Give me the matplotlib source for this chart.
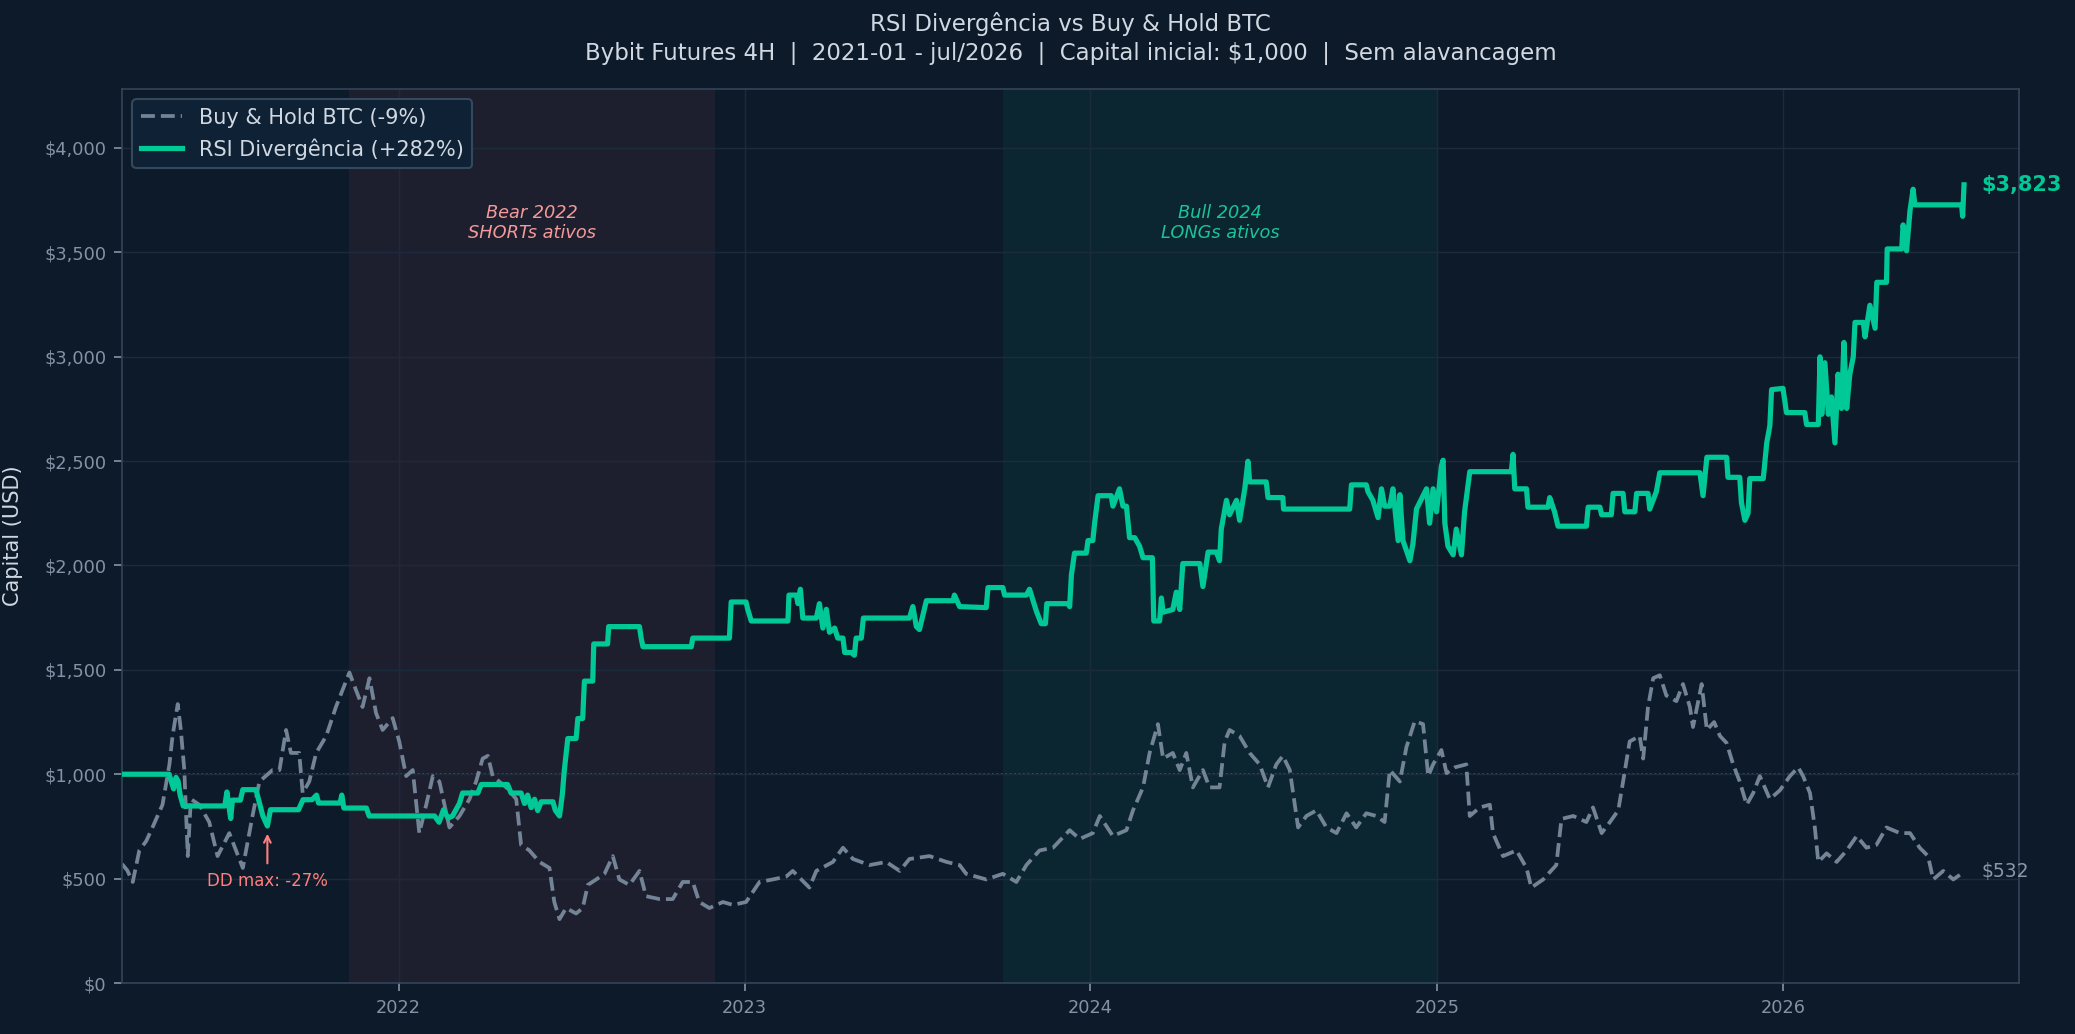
import pandas as pd
import matplotlib
matplotlib.use("Agg")
import matplotlib.pyplot as plt
import matplotlib.dates as mdates
from matplotlib.ticker import FuncFormatter

# datas em ano decimal
btc_t = [2021.200, 2021.215, 2021.231, 2021.250, 2021.270, 2021.288, 2021.317, 2021.337, 2021.346, 2021.361,
         2021.370, 2021.380, 2021.390, 2021.399, 2021.423, 2021.452, 2021.476, 2021.510, 2021.549, 2021.577,
         2021.597, 2021.635, 2021.655, 2021.674, 2021.688, 2021.712, 2021.722, 2021.741, 2021.761, 2021.790,
         2021.818, 2021.857, 2021.876, 2021.895, 2021.915, 2021.934, 2021.953, 2021.982, 2022.001, 2022.021,
         2022.040, 2022.059, 2022.079, 2022.098, 2022.117, 2022.146, 2022.175, 2022.204, 2022.223, 2022.242,
         2022.257, 2022.271, 2022.310, 2022.339, 2022.353, 2022.377, 2022.406, 2022.435, 2022.449, 2022.464,
         2022.483, 2022.512, 2022.531, 2022.546, 2022.570, 2022.594, 2022.618, 2022.637, 2022.666, 2022.695,
         2022.714, 2022.753, 2022.791, 2022.820, 2022.849, 2022.868, 2022.897, 2022.936, 2022.965, 2023.003,
         2023.042, 2023.080, 2023.119, 2023.138, 2023.186, 2023.206, 2023.254, 2023.283, 2023.312, 2023.360,
         2023.408, 2023.447, 2023.475, 2023.533, 2023.582, 2023.620, 2023.639, 2023.697, 2023.745, 2023.784,
         2023.813, 2023.851, 2023.890, 2023.938, 2023.967, 2024.005, 2024.025, 2024.063, 2024.102, 2024.121,
         2024.150, 2024.169, 2024.193, 2024.208, 2024.236, 2024.256, 2024.275, 2024.294, 2024.323, 2024.342,
         2024.371, 2024.386, 2024.400, 2024.429, 2024.458, 2024.487, 2024.511, 2024.535, 2024.554, 2024.574,
         2024.598, 2024.622, 2024.651, 2024.680, 2024.709, 2024.738, 2024.766, 2024.795, 2024.824, 2024.848,
         2024.863, 2024.892, 2024.911, 2024.935, 2024.959, 2024.974, 2024.988, 2025.012, 2025.027, 2025.051,
         2025.084, 2025.094, 2025.123, 2025.152, 2025.161, 2025.190, 2025.229, 2025.258, 2025.272, 2025.306,
         2025.344, 2025.359, 2025.393, 2025.431, 2025.450, 2025.475, 2025.499, 2025.523, 2025.537, 2025.556,
         2025.585, 2025.595, 2025.609, 2025.624, 2025.643, 2025.662, 2025.691, 2025.710, 2025.730, 2025.739,
         2025.764, 2025.779, 2025.800, 2025.817, 2025.836, 2025.855, 2025.874, 2025.894, 2025.913, 2025.932,
         2025.961, 2025.990, 2026.019, 2026.043, 2026.057, 2026.077, 2026.091, 2026.101, 2026.125, 2026.154,
         2026.183, 2026.212, 2026.240, 2026.269, 2026.298, 2026.337, 2026.366, 2026.394, 2026.418, 2026.433,
         2026.462, 2026.491, 2026.522]
btc_v = [570, 540, 484, 635, 680, 745, 854, 1047, 1183, 1336,
         1212, 1020, 608, 881, 854, 771, 608, 718, 551, 800,
         965, 1020, 1020, 1212, 1102, 1102, 910, 965, 1102, 1183,
         1322, 1487, 1403, 1322, 1460, 1293, 1212, 1269, 1157, 991,
         1020, 718, 854, 991, 965, 745, 800, 881, 965, 1075,
         1088, 991, 937, 881, 662, 635, 580, 551, 388, 306,
         359, 333, 359, 470, 496, 523, 608, 496, 470, 537,
         416, 402, 402, 484, 484, 388, 359, 388, 374, 388,
         484, 496, 510, 537, 457, 537, 580, 648, 594, 565,
         580, 537, 594, 608, 580, 565, 523, 496, 523, 484,
         565, 635, 648, 732, 690, 718, 800, 704, 732, 827,
         937, 1102, 1240, 1075, 1102, 1020, 1102, 937, 1020, 937,
         937, 1157, 1212, 1183, 1102, 1047, 937, 1047, 1088, 1020,
         745, 800, 827, 745, 718, 813, 745, 813, 800, 771,
         1020, 965, 1130, 1254, 1240, 991, 1047, 1116, 1005, 1033,
         1047, 800, 841, 854, 718, 608, 635, 551, 457, 496,
         565, 786, 800, 771, 841, 718, 771, 827, 965, 1157,
         1183, 1075, 1322, 1460, 1474, 1377, 1350, 1432, 1322, 1226,
         1432, 1212, 1250, 1183, 1150, 1047, 965, 854, 910, 991,
         881, 923, 991, 1033, 991, 910, 745, 580, 621, 580,
         635, 704, 648, 662, 745, 718, 718, 648, 608, 496,
         537, 496, 532]

rsi_t = [2021.200, 2021.336, 2021.349, 2021.356, 2021.362, 2021.368, 2021.377, 2021.497, 2021.503, 2021.514,
         2021.519, 2021.542, 2021.549, 2021.587, 2021.607, 2021.620, 2021.629, 2021.710, 2021.723, 2021.749,
         2021.762, 2021.768, 2021.830, 2021.835, 2021.841, 2021.906, 2021.914, 2022.103, 2022.116, 2022.129,
         2022.142, 2022.155, 2022.175, 2022.184, 2022.228, 2022.238, 2022.314, 2022.324, 2022.353, 2022.363,
         2022.372, 2022.382, 2022.392, 2022.401, 2022.411, 2022.445, 2022.452, 2022.464, 2022.472, 2022.478,
         2022.488, 2022.512, 2022.517, 2022.531, 2022.536, 2022.560, 2022.563, 2022.603, 2022.606, 2022.695,
         2022.700, 2022.705, 2022.845, 2022.849, 2022.955, 2022.960, 2023.003, 2023.008, 2023.018, 2023.124,
         2023.127, 2023.148, 2023.153, 2023.160, 2023.167, 2023.206, 2023.215, 2023.225, 2023.235, 2023.244,
         2023.259, 2023.268, 2023.283, 2023.288, 2023.307, 2023.316, 2023.321, 2023.336, 2023.342, 2023.475,
         2023.485, 2023.495, 2023.504, 2023.524, 2023.601, 2023.605, 2023.620, 2023.697, 2023.702, 2023.745,
         2023.750, 2023.813, 2023.822, 2023.842, 2023.856, 2023.868, 2023.872, 2023.933, 2023.938, 2023.943,
         2023.952, 2023.986, 2023.991, 2024.005, 2024.010, 2024.020, 2024.058, 2024.063, 2024.082, 2024.092,
         2024.102, 2024.111, 2024.126, 2024.140, 2024.150, 2024.177, 2024.181, 2024.198, 2024.203, 2024.208,
         2024.236, 2024.246, 2024.256, 2024.265, 2024.314, 2024.323, 2024.338, 2024.362, 2024.371, 2024.376,
         2024.391, 2024.400, 2024.420, 2024.429, 2024.444, 2024.453, 2024.458, 2024.506, 2024.511, 2024.554,
         2024.556, 2024.747, 2024.752, 2024.795, 2024.800, 2024.814, 2024.829, 2024.839, 2024.848, 2024.863,
         2024.872, 2024.887, 2024.892, 2024.901, 2024.921, 2024.930, 2024.940, 2024.969, 2024.978, 2024.988,
         2024.998, 2025.012, 2025.017, 2025.022, 2025.031, 2025.046, 2025.055, 2025.070, 2025.079, 2025.094,
         2025.214, 2025.219, 2025.224, 2025.258, 2025.262, 2025.320, 2025.325, 2025.339, 2025.349, 2025.431,
         2025.436, 2025.470, 2025.475, 2025.503, 2025.508, 2025.537, 2025.542, 2025.571, 2025.576, 2025.609,
         2025.614, 2025.633, 2025.643, 2025.759, 2025.768, 2025.779, 2025.836, 2025.840, 2025.874, 2025.879,
         2025.889, 2025.898, 2025.903, 2025.942, 2025.952, 2025.961, 2025.966, 2025.999, 2026.009, 2026.062,
         2026.067, 2026.101, 2026.106, 2026.111, 2026.120, 2026.130, 2026.139, 2026.149, 2026.158, 2026.168,
         2026.175, 2026.183, 2026.192, 2026.202, 2026.207, 2026.231, 2026.236, 2026.250, 2026.265, 2026.270,
         2026.298, 2026.300, 2026.342, 2026.346, 2026.356, 2026.366, 2026.375, 2026.380, 2026.515, 2026.518,
         2026.522]
rsi_v = [1000, 1000, 930, 985, 967, 900, 848, 848, 915, 788,
         876, 876, 926, 926, 800, 752, 830, 830, 878, 878,
         900, 862, 862, 900, 838, 838, 800, 800, 770, 830,
         790, 800, 860, 910, 910, 951, 951, 910, 910, 860,
         900, 840, 880, 826, 868, 868, 827, 800, 900, 1020,
         1171, 1171, 1267, 1267, 1446, 1446, 1624, 1624, 1707, 1707,
         1652, 1611, 1611, 1652, 1652, 1825, 1825, 1789, 1734, 1734,
         1858, 1858, 1817, 1886, 1748, 1748, 1817, 1700, 1790, 1680,
         1700, 1652, 1652, 1583, 1583, 1570, 1652, 1652, 1748, 1748,
         1803, 1707, 1693, 1831, 1831, 1858, 1803, 1798, 1894, 1894,
         1858, 1858, 1886, 1780, 1721, 1721, 1817, 1817, 1803, 1954,
         2059, 2059, 2119, 2119, 2202, 2334, 2334, 2284, 2367, 2284,
         2284, 2133, 2133, 2092, 2037, 2037, 1734, 1734, 1844, 1776,
         1789, 1872, 1789, 2009, 2009, 1899, 2064, 2064, 2023, 2174,
         2312, 2243, 2312, 2216, 2367, 2499, 2400, 2400, 2325, 2325,
         2270, 2270, 2386, 2386, 2353, 2312, 2229, 2367, 2284, 2284,
         2367, 2119, 2339, 2119, 2023, 2106, 2270, 2367, 2202, 2367,
         2257, 2477, 2504, 2202, 2092, 2051, 2174, 2051, 2257, 2449,
         2449, 2532, 2367, 2367, 2279, 2279, 2325, 2257, 2188, 2188,
         2279, 2279, 2243, 2243, 2345, 2345, 2257, 2257, 2345, 2345,
         2270, 2353, 2444, 2444, 2334, 2518, 2518, 2422, 2422, 2300,
         2216, 2250, 2416, 2416, 2587, 2669, 2842, 2848, 2732, 2732,
         2675, 2675, 2999, 2724, 2971, 2724, 2807, 2587, 2916, 2752,
         3068, 2752, 2916, 2999, 3164, 3164, 3095, 3246, 3136, 3356,
         3356, 3516, 3516, 3631, 3507, 3700, 3802, 3727, 3727, 3672,
         3823]

bear_periodo = ("2021-11-10", "2022-12-01")
bull_periodo = ("2023-10-01", "2025-01-01")
dd_ponto = (2021.620, 735)


def to_dates(anos):
    base = pd.Timestamp("2021-01-01")
    return [base + pd.Timedelta(days=(a - 2021) * 365.25) for a in anos]


BG = "#0d1a2a"
VERDE = "#00c896"
CINZA = "#738497"
TXT = "#d0d8e2"

x_btc = to_dates(btc_t)
x_rsi = to_dates(rsi_t)

fig = plt.figure(figsize=(2075 / 150, 1034 / 150), dpi=150, facecolor=BG)
ax = fig.add_axes([0.0588, 0.0493, 0.9142, 0.8646])
ax.set_facecolor(BG)

b0, b1 = pd.Timestamp(bear_periodo[0]), pd.Timestamp(bear_periodo[1])
u0, u1 = pd.Timestamp(bull_periodo[0]), pd.Timestamp(bull_periodo[1])
ax.axvspan(b0, b1, color="#ff6b6b", alpha=0.07, lw=0, zorder=0)
ax.axvspan(u0, u1, color=VERDE, alpha=0.07, lw=0, zorder=0)

ax.grid(True, color="#1c2b3b", lw=0.7, zorder=1)
ax.axhline(1000, color="#5a6b7d", ls=":", lw=0.8, alpha=0.8, zorder=1)

ax.plot(x_btc, btc_v, color=CINZA, ls="--", lw=1.8, label="Buy & Hold BTC (-9%)", zorder=2)
ax.plot(x_rsi, rsi_v, color=VERDE, lw=2.5, label="RSI Divergência (+282%)", zorder=3)

fim = x_rsi[-1]
ax.set_xlim(x_rsi[0], fim + pd.Timedelta(days=58))
ax.set_ylim(0, max(rsi_v) * 1.12)

ax.text(fim + pd.Timedelta(days=18), rsi_v[-1], "$3,823", color=VERDE, fontsize=10,
        fontweight="bold", va="center", ha="left")
ax.text(fim + pd.Timedelta(days=18), btc_v[-1], "$532", color="#8797a8", fontsize=9,
        va="center", ha="left")

ax.text(b0 + (b1 - b0) / 2, 3640, "Bear 2022\nSHORTs ativos", color="#f49a9a", fontsize=8.5,
        style="italic", ha="center", va="center")
ax.text(u0 + (u1 - u0) / 2, 3640, "Bull 2024\nLONGs ativos", color="#1cc39a", fontsize=8.5,
        style="italic", ha="center", va="center")

dd_x = to_dates([dd_ponto[0]])[0]
ax.annotate("DD max: -27%", xy=(dd_x, dd_ponto[1]), xytext=(dd_x, 490),
            color="#ff7f7f", fontsize=8, ha="center", va="center",
            arrowprops=dict(arrowstyle="->", color="#ff7f7f", lw=1))

ax.xaxis.set_major_locator(mdates.YearLocator())
ax.xaxis.set_major_formatter(mdates.DateFormatter("%Y"))
ax.yaxis.set_major_locator(plt.MultipleLocator(500))
ax.yaxis.set_major_formatter(FuncFormatter(lambda v, p: f"${v:,.0f}"))
ax.tick_params(colors="#8393a5", labelsize=8.5, length=4)
for s in ax.spines.values():
    s.set_color("#34455a")

ax.set_ylabel("Capital (USD)", color=TXT, fontsize=10)
ax.yaxis.set_label_coords(-0.052, 0.5)

leg = ax.legend(loc="upper left", fontsize=10, facecolor="#0f2235", edgecolor="#34495e",
                labelcolor=TXT, framealpha=1)

# titulo centrado sobre os eixos
ax.text(0.5, 1 + (89 - 24) / 894, "RSI Divergência vs Buy & Hold BTC", color=TXT, fontsize=11,
        ha="center", va="center", transform=ax.transAxes)
ax.text(0.5, 1 + (89 - 53) / 894,
        "Bybit Futures 4H  |  2021-01 - jul/2026  |  Capital inicial: $1,000  |  Sem alavancagem",
        color=TXT, fontsize=11, ha="center", va="center", transform=ax.transAxes)

fig.savefig("out.png", dpi=150, facecolor=BG)
